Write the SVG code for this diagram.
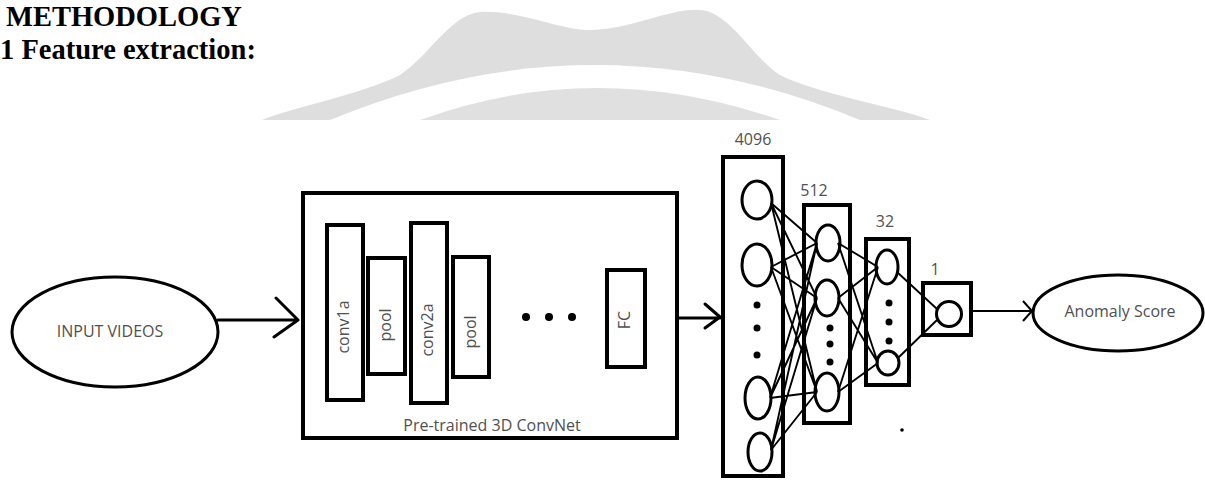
<svg xmlns="http://www.w3.org/2000/svg" width="1205" height="489" viewBox="0 0 1205 489">
<style>
.h{font-family:"Liberation Serif","Times New Roman",serif;font-weight:bold;font-size:28.5px;fill:#000}
.lbl{font-family:"Open Sans","DejaVu Sans",sans-serif;font-size:16px;fill:#505050}
.box{fill:none;stroke:#000;stroke-width:4}
.ell{fill:#fff;stroke:#000;stroke-width:3}
.neu{fill:none;stroke:#000;stroke-width:3}
.dot{fill:#000}
.ln{stroke:#000;stroke-width:1.9;fill:none}
.arr{stroke:#000;stroke-width:3;fill:none;stroke-linecap:round;stroke-linejoin:round}
</style>
<rect width="1205" height="489" fill="#fff"/>
<g id="watermark">
<path d="M262,120 C300,105 360,95 400,75 C430,55 450,15 480,12 C520,10 560,30 590,30 C630,30 670,8 700,10 C730,12 750,55 780,75 C820,95 890,105 930,120 Z" fill="#dedede"/>
<path d="M330,120 Q595,10 860,120 Z" fill="#fff"/>
<path d="M420,120 Q595,56 780,120 Z" fill="#e0e0e0"/>
</g>
<text class="h" x="6" y="26">METHODOLOGY</text>
<text class="h" x="0" y="59">1 Feature extraction:</text>

<g id="input">
<ellipse class="ell" cx="115" cy="332" rx="103" ry="55"/>
<text class="lbl" x="110" y="333" text-anchor="middle" dominant-baseline="middle">INPUT VIDEOS</text>
</g>

<g id="convnet">
<rect class="box" x="303" y="193" width="374" height="245"/>
<rect class="box" x="327" y="225" width="36" height="175"/>
<rect class="box" x="368" y="258" width="37" height="116"/>
<rect class="box" x="411" y="223" width="36" height="180"/>
<rect class="box" x="453" y="257" width="36" height="120"/>
<rect class="box" x="607" y="270" width="38" height="97"/>
<text class="lbl" transform="translate(345,327) rotate(-90)" text-anchor="middle" dominant-baseline="middle">conv1a</text>
<text class="lbl" transform="translate(387,325) rotate(-90)" text-anchor="middle" dominant-baseline="middle">pool</text>
<text class="lbl" transform="translate(429,330) rotate(-90)" text-anchor="middle" dominant-baseline="middle">conv2a</text>
<text class="lbl" transform="translate(472,332) rotate(-90)" text-anchor="middle" dominant-baseline="middle">pool</text>
<text class="lbl" transform="translate(626,320) rotate(-90)" text-anchor="middle" dominant-baseline="middle">FC</text>
<circle class="dot" cx="526" cy="317" r="4"/>
<circle class="dot" cx="549" cy="317" r="4"/>
<circle class="dot" cx="572" cy="317" r="4"/>
<text class="lbl" x="492" y="427" text-anchor="middle" dominant-baseline="middle">Pre-trained 3D ConvNet</text>
</g>

<g id="connectors">
<path class="arr" d="M218,320 H298 M276,298 L298,320 L274,337"/>
<path class="arr" d="M677,318 H720 M705,304 L720,317 L705,328"/>
<path class="ln" d="M971,311 H1031 M1023,301 L1032,311 L1023,321" style="stroke-width:2"/>
<path class="ln" d="M771,203 L817,243 M771,203 L817,298 M771,203 L817,392
M771,267 L817,243 M771,267 L817,298 M771,267 L817,392
M770,398 L817,243 M770,398 L817,298 M770,398 L817,392
M771,450 L817,243 M771,450 L817,298 M771,450 L817,392"/>
<path class="ln" d="M838,243 L878,267 M838,243 L878,363
M838,298 L878,267 M838,298 L878,363
M838,392 L878,267 M838,392 L878,363"/>
<path class="ln" d="M897,272 L937,309 M898,358 L937,320"/>
</g>

<g id="layer4096">
<rect class="box" x="723" y="157" width="60" height="319"/>
<text class="lbl" x="753" y="141" text-anchor="middle" dominant-baseline="middle">4096</text>
<ellipse class="neu" cx="757" cy="200" rx="15" ry="19"/>
<ellipse class="neu" cx="757" cy="265" rx="15" ry="21"/>
<circle class="dot" cx="757" cy="305" r="3.5"/>
<circle class="dot" cx="757" cy="328" r="3.5"/>
<circle class="dot" cx="757" cy="355" r="3.5"/>
<ellipse class="neu" cx="758" cy="398" rx="13" ry="21"/>
<ellipse class="neu" cx="760" cy="452" rx="12" ry="19"/>
</g>

<g id="layer512">
<rect class="box" x="804" y="205" width="46" height="218"/>
<text class="lbl" x="814" y="192" text-anchor="middle" dominant-baseline="middle">512</text>
<ellipse class="neu" cx="828" cy="243" rx="12" ry="18"/>
<ellipse class="neu" cx="827" cy="298" rx="12" ry="18"/>
<circle class="dot" cx="830" cy="328" r="3.5"/>
<circle class="dot" cx="830" cy="344" r="3.5"/>
<circle class="dot" cx="830" cy="362" r="3.5"/>
<ellipse class="neu" cx="827" cy="392" rx="12" ry="19"/>
</g>

<g id="layer32">
<rect class="box" x="866" y="239" width="43" height="146"/>
<text class="lbl" x="885" y="223" text-anchor="middle" dominant-baseline="middle">32</text>
<ellipse class="neu" cx="887" cy="267" rx="11" ry="17"/>
<circle class="dot" cx="889" cy="303" r="3.5"/>
<circle class="dot" cx="889" cy="322" r="3.5"/>
<circle class="dot" cx="889" cy="341" r="3.5"/>
<ellipse class="neu" cx="888" cy="363" rx="11" ry="12"/>
</g>

<g id="layer1">
<rect class="box" x="923" y="283" width="48" height="52"/>
<text class="lbl" x="935" y="271" text-anchor="middle" dominant-baseline="middle">1</text>
<circle class="neu" cx="949" cy="314" r="12.5"/>
</g>

<circle class="dot" cx="902" cy="430" r="1.8"/>

<g id="output">
<ellipse class="ell" cx="1118" cy="313" rx="85" ry="38"/>
<text class="lbl" x="1120" y="313" text-anchor="middle" dominant-baseline="middle">Anomaly Score</text>
</g>
</svg>
